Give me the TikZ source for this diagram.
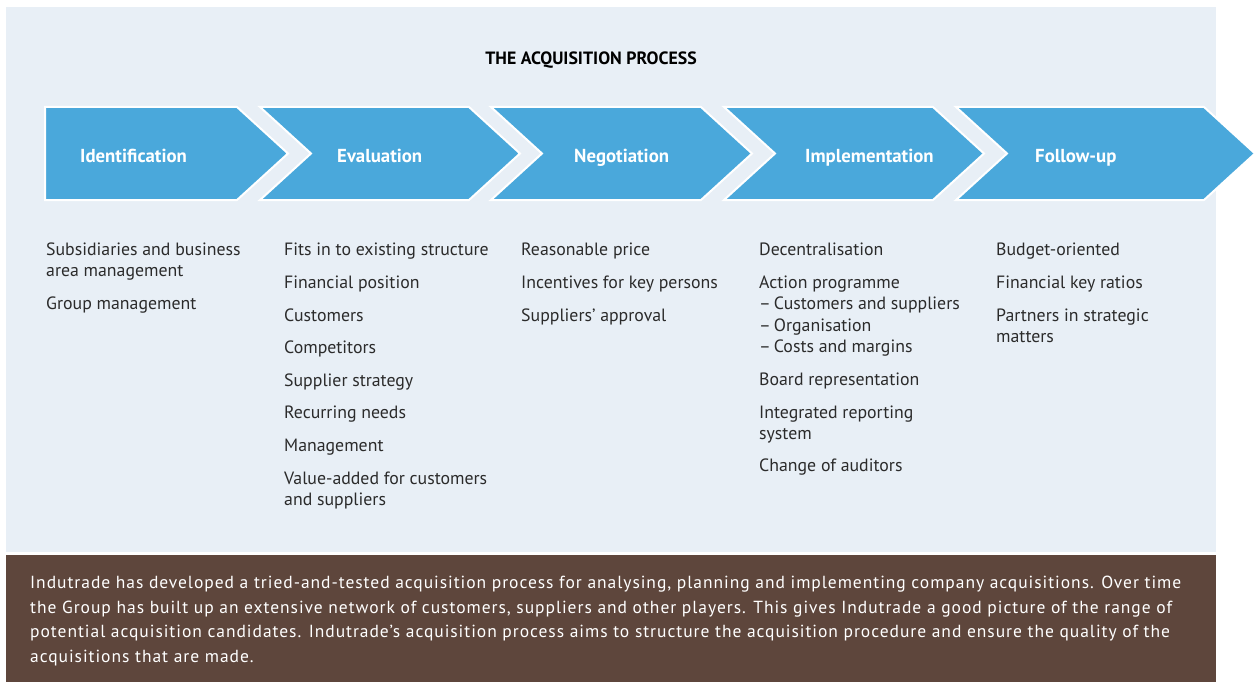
\documentclass[tikz,border=0pt]{standalone}
\usepackage{fontspec}
\setmainfont{PT Sans}
\definecolor{bgblue}{HTML}{E8EFF6}
\definecolor{arrowblue}{HTML}{4AA8DB}
\definecolor{boxbrown}{HTML}{5E463C}
\definecolor{txt}{HTML}{2B2B2B}
\tikzset{
  chev/.style={fill=arrowblue, draw=white, line width=2pt, line join=miter},
  steplabel/.style={anchor=base west, inner sep=0pt, text=white, font=\bfseries\fontsize{18.8}{22}\selectfont},
  body/.style={anchor=base west, inner sep=0pt, text=txt, font=\fontsize{17.8}{21}\selectfont},
  title/.style={anchor=base, inner sep=0pt, text=black, font=\bfseries\fontsize{17.8}{21}\selectfont},
  note/.style={anchor=north west, inner sep=0pt, text=white, align=left, font=\fontsize{17.5}{24.5}\selectfont\addfontfeature{LetterSpace=5.5}}
}
\begin{document}
\begin{tikzpicture}[x=1pt,y=-1pt]
\useasboundingbox (0,0) rectangle (1258,682);
\fill[bgblue] (6,7) rectangle (1216,552);
\fill[boxbrown] (6,555) rectangle (1216,682);

\node[title] (ttl) at (591,65) {THE ACQUISITION PROCESS};

% chevrons
\draw[chev] (45,107) -- (237,107) -- (288,153.5) -- (237,200) -- (45,200) -- cycle;
\draw[chev] (260,107) -- (469,107) -- (520,153.5) -- (469,200) -- (260,200) -- (311,153.5) -- cycle;
\draw[chev] (491,107) -- (701,107) -- (752,153.5) -- (701,200) -- (491,200) -- (542,153.5) -- cycle;
\draw[chev] (724,107) -- (933,107) -- (984,153.5) -- (933,200) -- (724,200) -- (775,153.5) -- cycle;
\draw[chev] (956,107) -- (1204,107) -- (1255,153.5) -- (1204,200) -- (956,200) -- (1007,153.5) -- cycle;

\node[steplabel] (s1) at (80,162) {Identification};
\node[steplabel] (s2) at (337,162) {Evaluation};
\node[steplabel] (s3) at (574,162) {Negotiation};
\node[steplabel] (s4) at (805,162) {Implementation};
\node[steplabel] (s5) at (1035,162) {Follow-up};

% column 1
\foreach \y/\t [count=\i] in {255/Subsidiaries and business, 276.5/area management, 309/Group management}
  \node[body] (a\i) at (46,\y) {\t};
% column 2
\foreach \y/\t [count=\i] in {255/Fits in to existing structure, 288/Financial position, 321/Customers, 353/Competitors, 386/Supplier strategy, 418/Recurring needs, 451/Management, 484/Value-added for customers, 505.5/and suppliers}
  \node[body] (b\i) at (284,\y) {\t};
% column 3
\foreach \y/\t [count=\i] in {255/Reasonable price, 288/Incentives for key persons, 321/Suppliers’ approval}
  \node[body] (c\i) at (521,\y) {\t};
% column 4
\foreach \y/\t [count=\i] in {255/Decentralisation, 288/Action programme, 309.5/–\,Customers and suppliers, 331/–\,Organisation, 352.5/–\,Costs and margins, 385/Board representation, 418/Integrated reporting, 439.5/system, 471/Change of auditors}
  \node[body] (d\i) at (759,\y) {\t};
% column 5
\foreach \y/\t [count=\i] in {255/Budget-oriented, 288/Financial key ratios, 321/Partners in strategic, 342.5/matters}
  \node[body] (e\i) at (996,\y) {\t};

\node[note] (nt) at (30,576) {Indutrade has developed a tried-and-tested acquisition process for analysing, planning and implementing company acquisitions. Over time\\
the Group has built up an extensive network of customers, suppliers and other players. This gives Indutrade a good picture of the range of\\
potential acquisition candidates. Indutrade’s acquisition process aims to structure the acquisition procedure and ensure the quality of the\\
acquisitions that are made.};
\end{tikzpicture}
\end{document}
